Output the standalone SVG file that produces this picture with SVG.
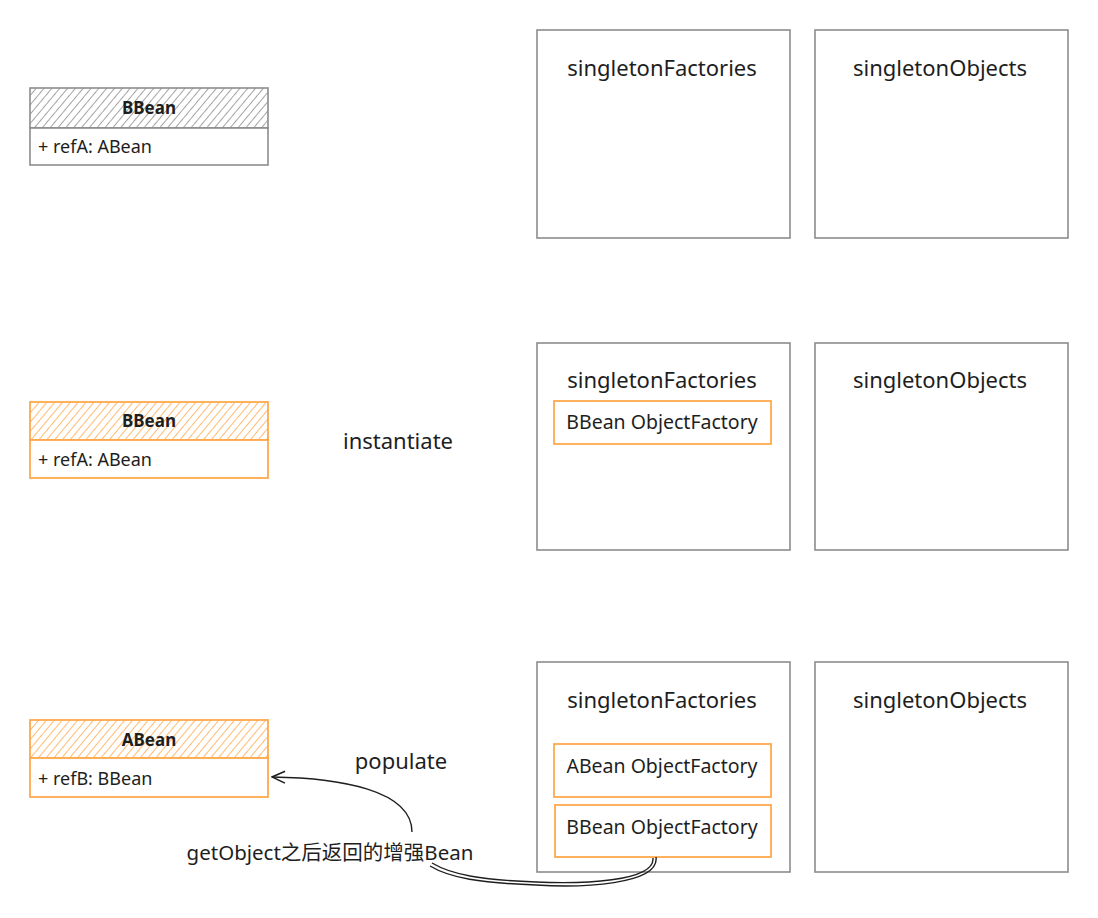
<svg xmlns="http://www.w3.org/2000/svg" width="1098" height="918" viewBox="0 0 1098 918">
<defs>
<pattern id="hg" patternUnits="userSpaceOnUse" width="6" height="6" patternTransform="rotate(40)">
<line x1="0" y1="0" x2="0" y2="6" stroke="#8c8c8c" stroke-width="1.6"/>
</pattern>
<pattern id="ho" patternUnits="userSpaceOnUse" width="6" height="6" patternTransform="rotate(40)">
<line x1="0" y1="0" x2="0" y2="6" stroke="#ffa94d" stroke-width="1.6"/>
</pattern>
<marker id="arr" viewBox="0 0 16 16" refX="15" refY="8" markerWidth="16" markerHeight="16" markerUnits="userSpaceOnUse" orient="auto">
<path d="M2,2 L15,8 L2,14" fill="none" stroke="#1e1e1e" stroke-width="1.5"/>
</marker>
</defs>
<style>
.box{fill:#fff;stroke:#8c8c8c;stroke-width:1.6}
.obox{fill:#fff;stroke:#ffa94d;stroke-width:1.8}
.big{font-family:"Noto Sans","DejaVu Sans",sans-serif;font-size:22px;fill:#1e1e1e}
.mid{font-family:"Noto Sans","DejaVu Sans",sans-serif;font-size:19.5px;fill:#1e1e1e}
.hdr{font-family:"Noto Sans","DejaVu Sans",sans-serif;font-size:17px;font-weight:bold;fill:#1e1e1e}
.fld{font-family:"Noto Sans","DejaVu Sans",sans-serif;font-size:18px;fill:#1e1e1e}
.cn{font-family:"Noto Sans","Noto Sans CJK SC",sans-serif;font-size:20.5px;fill:#1e1e1e}
.line{fill:none;stroke:#1e1e1e;stroke-width:1.4}
</style>
<rect width="1098" height="918" fill="#fff"/>

<g id="bbean-1">
<rect x="30" y="88" width="238" height="40" fill="url(#hg)" stroke="#8c8c8c" stroke-width="1.6"/>
<rect x="30" y="128" width="238" height="37" class="box"/>
<text x="149" y="114" text-anchor="middle" class="hdr">BBean</text>
<text x="38" y="153" class="fld">+ refA: ABean</text>
</g>
<g id="sf-1">
<rect x="537" y="30" width="253" height="208" class="box"/>
<text x="662" y="76" text-anchor="middle" class="big">singletonFactories</text>
</g>
<g id="so-1">
<rect x="815" y="30" width="253" height="208" class="box"/>
<text x="940" y="76" text-anchor="middle" class="big">singletonObjects</text>
</g>

<g id="bbean-2">
<rect x="30" y="402" width="238" height="38" fill="url(#ho)" stroke="#ffa94d" stroke-width="1.8"/>
<rect x="30" y="440" width="238" height="38" class="obox"/>
<text x="149" y="427" text-anchor="middle" class="hdr">BBean</text>
<text x="38" y="466" class="fld">+ refA: ABean</text>
</g>
<g id="instantiate-label">
<text x="398" y="449" text-anchor="middle" class="big">instantiate</text>
</g>
<g id="sf-2">
<rect x="537" y="343" width="253" height="207" class="box"/>
<text x="662" y="388" text-anchor="middle" class="big">singletonFactories</text>
</g>
<g id="bbean-of-2">
<rect x="554" y="401" width="217" height="43" class="obox"/>
<text x="662" y="429" text-anchor="middle" class="mid">BBean ObjectFactory</text>
</g>
<g id="so-2">
<rect x="815" y="343" width="253" height="207" class="box"/>
<text x="940" y="388" text-anchor="middle" class="big">singletonObjects</text>
</g>

<g id="abean-3">
<rect x="30" y="720" width="238" height="38" fill="url(#ho)" stroke="#ffa94d" stroke-width="1.8"/>
<rect x="30" y="758" width="238" height="39" class="obox"/>
<text x="149" y="746" text-anchor="middle" class="hdr">ABean</text>
<text x="38" y="785" class="fld">+ refB: BBean</text>
</g>
<g id="populate-label">
<text x="401" y="769" text-anchor="middle" class="big">populate</text>
</g>
<g id="sf-3">
<rect x="537" y="662" width="253" height="210" class="box"/>
<text x="662" y="708" text-anchor="middle" class="big">singletonFactories</text>
</g>
<g id="abean-of-3">
<rect x="554" y="744" width="217" height="53" class="obox"/>
<text x="662" y="773" text-anchor="middle" class="mid">ABean ObjectFactory</text>
</g>
<g id="bbean-of-3">
<rect x="555" y="805" width="216" height="52" class="obox"/>
<text x="662" y="834" text-anchor="middle" class="mid">BBean ObjectFactory</text>
</g>
<g id="so-3">
<rect x="815" y="662" width="253" height="210" class="box"/>
<text x="940" y="708" text-anchor="middle" class="big">singletonObjects</text>
</g>

<g id="connectors">
<path class="line" d="M656,857 C660,885 580,888 536,885 C480,883 450,878 430,866"/>
<path class="line" d="M653,858 C655,882 580,884 536,882 C482,880 452,875 432,863" stroke-width="0.8"/>
<path class="line" d="M412,832 C412,790 340,778 272,777" marker-end="url(#arr)"/>
<text x="330" y="860" text-anchor="middle" class="cn">getObject之后返回的增强Bean</text>
</g>
</svg>
